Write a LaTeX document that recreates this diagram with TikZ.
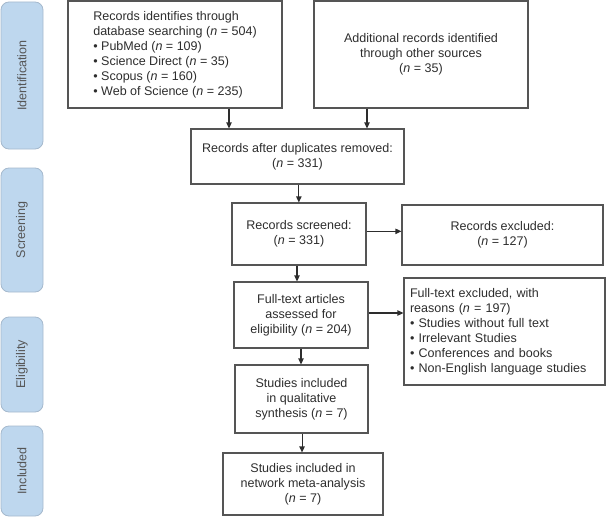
\documentclass[tikz,border=0pt]{standalone}
\usepackage{fontspec}
\setmainfont{Liberation Sans}
\usetikzlibrary{arrows.meta,calc}
\definecolor{txt}{RGB}{45,45,45}
\definecolor{boxline}{RGB}{85,85,85}
\definecolor{phasefill}{RGB}{190,215,238}
\definecolor{phaseline}{RGB}{165,185,205}
\definecolor{phasetxt}{RGB}{85,85,85}
\begin{document}
\begin{tikzpicture}[x=0.75pt,y=-0.75pt,
  every node/.style={font=\fontsize{9.4pt}{11.25pt}\selectfont, text=txt},
  box/.style={draw=boxline, line width=0.8pt, inner sep=0pt, align=center},
  phase/.style={draw=phaseline, fill=phasefill, line width=0.6pt, rounded corners=6pt, inner sep=0pt, minimum width=31.5pt},
  phaselabel/.style={rotate=90, text=phasetxt},
  arr/.style={draw=txt, line width=0.8pt, -{Triangle[length=4.5pt,width=4pt]}}]
\useasboundingbox (0,0) rectangle (606,517);
% phase bars
\node[phase, minimum height=0.75*147pt] (ph1) at (22,75.5) {};
\node[phaselabel] (ph1t) at (ph1) {Identification};
\node[phase, minimum height=0.75*124pt] (ph2) at (22,230) {};
\node[phaselabel] (ph2t) at (ph2) {Screening};
\node[phase, minimum height=0.75*95pt] (ph3) at (22,364.5) {};
\node[phaselabel] (ph3t) at (ph3) {Eligibility};
\node[phase, minimum height=0.75*90pt] (ph4) at (22,471) {};
\node[phaselabel] (ph4t) at (ph4) {Included};
% boxes
\node[box, align=left, minimum width=0.75*214pt, minimum height=0.75*107pt] (b1) at (175,54.5)
  {Records identifies through\\database searching (\textit{n} = 504)\\\textbullet{} PubMed (\textit{n} = 109)\\\textbullet{} Science Direct (\textit{n} = 35)\\\textbullet{} Scopus (\textit{n} = 160)\\\textbullet{} Web of Science (\textit{n} = 235)};
\node[box, minimum width=0.75*214pt, minimum height=0.75*107pt] (b2) at (421,54.5)
  {Additional records identified\\through other sources\\(\textit{n} = 35)};
\node[box, minimum width=0.75*213pt, minimum height=0.75*55pt] (b3) at (297.5,156.5)
  {Records after duplicates removed:\\(\textit{n} = 331)};
\node[box, minimum width=0.75*134pt, minimum height=0.75*62pt] (b4) at (299,234)
  {Records screened:\\(\textit{n} = 331)};
\node[box, minimum width=0.75*201pt, minimum height=0.75*60pt] (b5) at (502.5,235)
  {Records excluded:\\(\textit{n} = 127)};
\node[box, minimum width=0.75*134pt, minimum height=0.75*66pt] (b6) at (301,315)
  {Full-text articles\\assessed for\\eligibility (\textit{n} = 204)};
\node[box, align=left, inner xsep=4.5pt, text width=0.75*189pt, minimum height=0.75*107pt] (b7) at (504.5,331.5)
  {Full-text excluded, with\\reasons (\textit{n} = 197)\\\textbullet{} Studies without full text\\\textbullet{} Irrelevant Studies\\\textbullet{} Conferences and books\\\textbullet{} Non-English language studies};
\node[box, minimum width=0.75*133pt, minimum height=0.75*68pt] (b8) at (301.5,399)
  {Studies included\\in qualitative\\synthesis (\textit{n} = 7)};
\node[box, minimum width=0.75*160pt, minimum height=0.75*62pt] (b9) at (303,484)
  {Studies included in\\network meta-analysis\\(\textit{n} = 7)};
% connectors
\draw[arr] ([xshift=40.5pt]b1.south) -- ([xshift=40.5pt]b1.south |- b3.north);
\draw[arr] ([xshift=-40.5pt]b2.south) -- ([xshift=-40.5pt]b2.south |- b3.north);
\draw[arr] ([xshift=1pt]b3.south) -- ([xshift=1pt]b3.south |- b4.north);
\draw[arr] ([yshift=2pt]b4.east) -- ([yshift=2pt]b4.east -| b5.west);
\draw[arr] ([xshift=-1.5pt]b4.south) -- ([xshift=-1.5pt]b4.south |- b6.north);
\draw[arr] ([yshift=1.5pt]b6.east) -- ([yshift=1.5pt]b6.east -| b7.west);
\draw[arr] (b6.south) -- (b6.south |- b8.north);
\draw[arr] ([xshift=0.4pt]b8.south) -- ([xshift=0.4pt]b8.south |- b9.north);
\end{tikzpicture}
\end{document}
